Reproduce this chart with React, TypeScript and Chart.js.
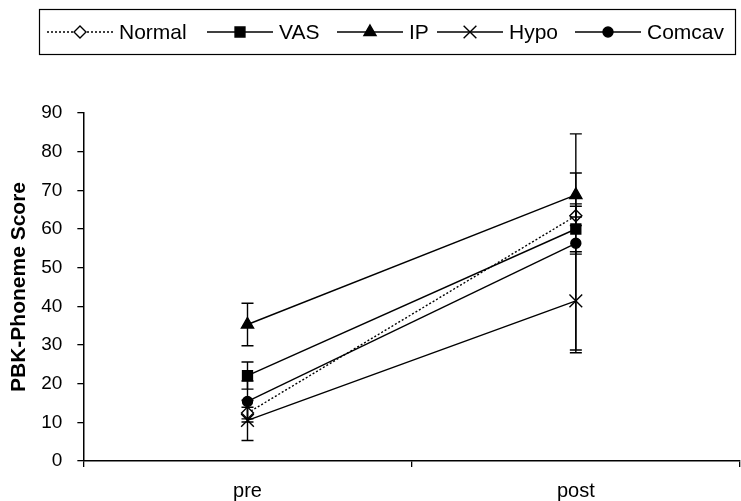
import React, { useEffect, useRef } from "react";
import { Chart, registerables } from "chart.js";
import { drawPoint } from "chart.js/helpers";

Chart.register(...registerables);

const categories = ["pre", "post"];
const normal = [12.4, 63.4];
const vas = [22.1, 60.0];
const ip = [35.3, 68.8];
const hypo = [10.5, 41.4];
const comcav = [15.4, 56.3];

const normalErr = [1.5, 2.5];
const vasErr = [3.5, 6.5];
const ipErr = [5.5, 5.7];
const hypoErr = [5.2, 12.7];
const comcavErr = [5.3, 28.3];

const yTicks = [0, 10, 20, 30, 40, 50, 60, 70, 80, 90];

const FONT = "'Liberation Sans', Arial, Helvetica, sans-serif";

// left edge of each legend entry's sample line
const legendStarts = [47, 207, 337, 437, 575];

const errorBarPlugin = {
  id: "errorBars",
  afterDatasetsDraw(chart: any) {
    const ctx = chart.ctx;
    const x = chart.scales.x;
    const y = chart.scales.y;
    ctx.save();
    ctx.strokeStyle = "#000";
    ctx.lineWidth = 1.4;
    chart.data.datasets.forEach((ds: any) => {
      const errs = ds.errors as number[];
      ds.data.forEach((v: number, i: number) => {
        const px = x.getPixelForValue(i);
        const top = y.getPixelForValue(v + errs[i]);
        const bot = y.getPixelForValue(v - errs[i]);
        ctx.beginPath();
        ctx.moveTo(px, top);
        ctx.lineTo(px, bot);
        ctx.moveTo(px - 6, top);
        ctx.lineTo(px + 6, top);
        ctx.moveTo(px - 6, bot);
        ctx.lineTo(px + 6, bot);
        ctx.stroke();
      });
    });
    ctx.restore();
  },
};

const legendPlugin = {
  id: "boxLegend",
  afterDraw(chart: any) {
    const ctx = chart.ctx;
    ctx.save();
    ctx.strokeStyle = "#000";
    ctx.lineWidth = 1.2;
    ctx.strokeRect(39.5, 9.5, 696, 45);
    ctx.font = `21px ${FONT}`;
    ctx.textBaseline = "middle";
    ctx.fillStyle = "#000";
    const cy = 32;
    chart.data.datasets.forEach((ds: any, i: number) => {
      const cx = legendStarts[i];
      const lineLen = 66;
      ctx.save();
      ctx.strokeStyle = "#000";
      ctx.lineWidth = 1.4;
      ctx.setLineDash(ds.borderDash || []);
      ctx.beginPath();
      ctx.moveTo(cx, cy);
      ctx.lineTo(cx + lineLen, cy);
      ctx.stroke();
      ctx.restore();
      ctx.save();
      ctx.fillStyle = ds.pointBackgroundColor;
      ctx.strokeStyle = "#000";
      ctx.lineWidth = 1.4;
      drawPoint(ctx, { pointStyle: ds.pointStyle, radius: ds.pointRadius, borderWidth: 1.4, rotation: 0 }, cx + lineLen / 2, cy);
      ctx.restore();
      ctx.fillText(ds.label, cx + lineLen + 6, cy + 1);
    });
    ctx.restore();
  },
};

export default function App() {
  const ref = useRef<HTMLCanvasElement>(null);
  useEffect(() => {
    const mk = (label: string, data: number[], errors: number[], pointStyle: string, fill: string, radius: number, dash?: number[]) => ({
      label,
      data,
      errors,
      borderColor: "#000",
      borderWidth: 1.4,
      borderDash: dash,
      pointStyle,
      pointRadius: radius,
      pointBackgroundColor: fill,
      pointBorderColor: "#000",
      pointBorderWidth: 1.4,
      tension: 0,
      fill: false,
    });
    const chart = new Chart(ref.current as HTMLCanvasElement, {
      type: "line",
      data: {
        labels: categories,
        datasets: [
          mk("Normal", normal, normalErr, "rectRot", "#fff", 6, [2, 2]),
          mk("VAS", vas, vasErr, "rect", "#000", 7),
          mk("IP", ip, ipErr, "triangle", "#000", 7),
          mk("Hypo", hypo, hypoErr, "crossRot", "#000", 9),
          mk("Comcav", comcav, comcavErr, "circle", "#000", 5),
        ] as any,
      },
      options: {
        animation: false,
        responsive: false,
        maintainAspectRatio: false,
        layout: { autoPadding: false, padding: { top: 113, right: 1, left: 7, bottom: -14 } },
        plugins: { legend: { display: false }, tooltip: { enabled: false } },
        scales: {
          x: {
            offset: true,
            afterFit: (scale: any) => {
              scale.paddingRight = 0;
            },
            grid: { offset: true, drawOnChartArea: false, tickLength: 6, color: "#000", lineWidth: 1.3 },
            border: { color: "#000", width: 1.5 },
            ticks: { color: "#000", font: { size: 20, family: FONT }, padding: 12 },
          },
          y: {
            min: 0,
            max: 90,
            afterBuildTicks: (axis: any) => {
              axis.ticks = yTicks.map((v) => ({ value: v }));
            },
            grid: { drawOnChartArea: false, tickLength: 6, color: "#000", lineWidth: 1.3 },
            border: { color: "#000", width: 1.5 },
            ticks: { color: "#000", font: { size: 19, family: FONT }, padding: 15 },
            title: {
              display: true,
              text: "PBK-Phoneme Score",
              color: "#000",
              font: { size: 21, weight: "bold", family: FONT },
              padding: { top: 0, bottom: -6 },
            },
          },
        },
      } as any,
      plugins: [errorBarPlugin, legendPlugin],
    });
    return () => chart.destroy();
  }, []);
  return (
    <div style={{ position: "absolute", left: 0, top: 0, width: 741, height: 501, background: "#fff" }}>
      <canvas ref={ref} width={741} height={501} />
    </div>
  );
}
